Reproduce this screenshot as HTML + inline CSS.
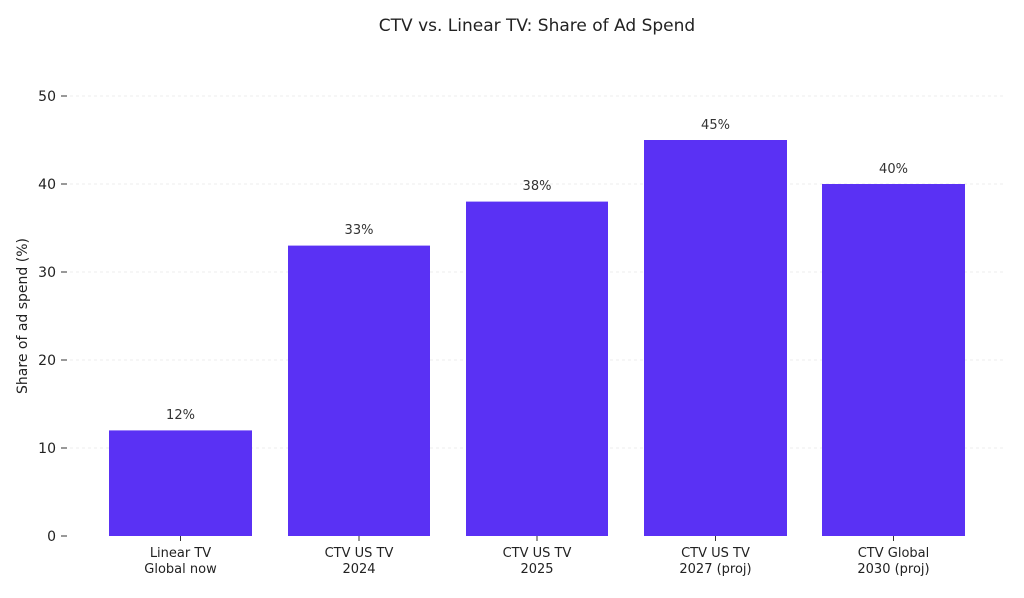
<!DOCTYPE html>
<html><head><meta charset="utf-8"><style>
body{margin:0;background:#fff;}
</style></head><body>
<svg width="1024" height="593" xmlns="http://www.w3.org/2000/svg" font-family="DejaVu Sans, Liberation Sans, sans-serif">
<rect width="1024" height="593" fill="#fff"/>
<text x="537" y="31" font-size="17" text-anchor="middle" fill="#222">CTV vs. Linear TV: Share of Ad Spend</text>
<g stroke="#e6e6e6" stroke-width="0.8" stroke-dasharray="3,3">
<line x1="70" x2="1005" y1="96" y2="96"/>
<line x1="70" x2="1005" y1="184" y2="184"/>
<line x1="70" x2="1005" y1="272" y2="272"/>
<line x1="70" x2="1005" y1="360" y2="360"/>
<line x1="70" x2="1005" y1="448" y2="448"/>
</g>
<g stroke="#333" stroke-width="1">
<line x1="61" x2="67" y1="96" y2="96"/>
<line x1="61" x2="67" y1="184" y2="184"/>
<line x1="61" x2="67" y1="272" y2="272"/>
<line x1="61" x2="67" y1="360" y2="360"/>
<line x1="61" x2="67" y1="448" y2="448"/>
<line x1="61" x2="67" y1="536" y2="536"/>
</g>
<g font-size="14" fill="#222" text-anchor="end">
<text x="56" y="101">50</text>
<text x="56" y="189">40</text>
<text x="56" y="277">30</text>
<text x="56" y="365">20</text>
<text x="56" y="453">10</text>
<text x="56" y="541">0</text>
</g>
<text transform="translate(27,316) rotate(-90)" font-size="14" fill="#222" text-anchor="middle">Share of ad spend (%)</text>
<g fill="#5a31f4">
<rect x="109" y="430.4" width="143" height="105.6"/>
<rect x="288" y="245.6" width="142" height="290.4"/>
<rect x="466" y="201.6" width="142" height="334.4"/>
<rect x="644" y="140" width="143" height="396"/>
<rect x="822" y="184" width="143" height="352"/>
</g>
<g font-size="13" fill="#333" text-anchor="middle">
<text x="180.5" y="419">12%</text>
<text x="359" y="234">33%</text>
<text x="537" y="190">38%</text>
<text x="715.5" y="129">45%</text>
<text x="893.5" y="173">40%</text>
</g>
<g stroke="#333" stroke-width="1">
<line x1="180.5" x2="180.5" y1="536" y2="541"/>
<line x1="359" x2="359" y1="536" y2="541"/>
<line x1="537" x2="537" y1="536" y2="541"/>
<line x1="715.5" x2="715.5" y1="536" y2="541"/>
<line x1="893.5" x2="893.5" y1="536" y2="541"/>
</g>
<g font-size="13" fill="#222" text-anchor="middle">
<text x="180.5" y="557">Linear TV</text><text x="180.5" y="573">Global now</text>
<text x="359" y="557">CTV US TV</text><text x="359" y="573">2024</text>
<text x="537" y="557">CTV US TV</text><text x="537" y="573">2025</text>
<text x="715.5" y="557">CTV US TV</text><text x="715.5" y="573">2027 (proj)</text>
<text x="893.5" y="557">CTV Global</text><text x="893.5" y="573">2030 (proj)</text>
</g>
</svg>
</body></html>
